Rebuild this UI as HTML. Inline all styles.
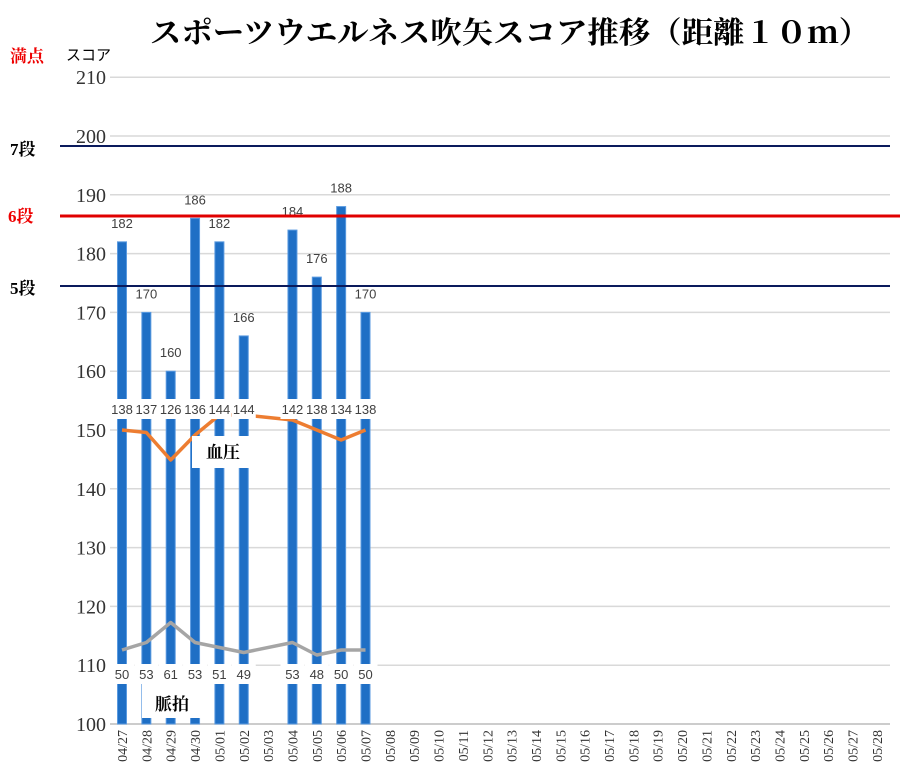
<!DOCTYPE html>
<html><head><meta charset="utf-8"><style>
body{margin:0;background:#fff}
svg{display:block}
.serif{font-family:"Liberation Serif","Noto Serif CJK SC",serif}
.sans{font-family:"Liberation Sans","Noto Sans CJK JP",sans-serif}
</style></head><body>
<svg id="chart" width="900" height="778" viewBox="0 0 900 778" xmlns="http://www.w3.org/2000/svg">
<text x="510" y="43" text-anchor="middle" class="serif" font-size="30" font-weight="bold" fill="#000" textLength="720" lengthAdjust="spacingAndGlyphs">スポーツウエルネス吹矢スコア推移（距離１０ｍ）</text>
<text x="10" y="62" class="serif" font-size="17" font-weight="bold" fill="#e00">満点</text>
<text x="66" y="60" class="sans" font-size="15" fill="#000">スコア</text>
<g id="grid"></g><g id="bars"></g><g id="lines"></g><g id="labels"></g><g id="xt"></g>
<line x1="60" x2="890" y1="146" y2="146" stroke="#0a1a5c" stroke-width="2"/>
<line x1="60" x2="900" y1="216" y2="216" stroke="#e00000" stroke-width="3"/>
<line x1="60" x2="890" y1="286" y2="286" stroke="#0a1a5c" stroke-width="2"/>
<text x="10" y="155" class="serif" font-size="17" font-weight="bold" fill="#000">7段</text>
<text x="8" y="222" class="serif" font-size="17" font-weight="bold" fill="#e00">6段</text>
<text x="10" y="294" class="serif" font-size="17" font-weight="bold" fill="#000">5段</text>
<rect x="192" y="436" width="62" height="32" fill="#fff"/>
<text x="206" y="458" class="serif" font-size="17" font-weight="bold">血圧</text>
<rect x="142" y="682" width="62" height="36" fill="#fff"/>
<text x="155" y="710" class="serif" font-size="17" font-weight="bold">脈拍</text>
</svg>
<script>
const dates=["04/27","04/28","04/29","04/30","05/01","05/02","05/03","05/04","05/05","05/06","05/07","05/08","05/09","05/10","05/11","05/12","05/13","05/14","05/15","05/16","05/17","05/18","05/19","05/20","05/21","05/22","05/23","05/24","05/25","05/26","05/27","05/28"];
const scores=[182,170,160,186,182,166,null,184,176,188,170];
const bp=[138,137,126,136,144,144,null,142,138,134,138];
const pulse=[50,53,61,53,51,49,null,53,48,50,50];
const yTicks=[100,110,120,130,140,150,160,170,180,190,200,210];
const NS="http://www.w3.org/2000/svg";
const X=i=>122+i*24.35;
const Y=v=>724-(v-100)*5.88;
const Y2=v=>775-v*2.5;
function mk(t,a,p,txt){const e=document.createElementNS(NS,t);for(const k in a)e.setAttribute(k,a[k]);if(txt!=null)e.textContent=txt;document.getElementById(p).appendChild(e);return e;}
yTicks.forEach(v=>{
 const l=mk('line',{x1:110,x2:890,y1:Y(v),y2:Y(v),stroke:v==100?'#bbb':'#d9d9d9','stroke-width':1.5},'grid');
 
 
 const t=mk('text',{x:106,y:Y(v)+7,'text-anchor':'end','font-size':20,fill:'#333',class:'serif'},'grid',v);
 
 
});
scores.forEach((v,i)=>{if(v==null)return;
 const r=mk('rect',{x:X(i)-4.5,y:Y(v),width:9,height:724-Y(v),fill:'#1f6fc5',stroke:'#5a9ae0','stroke-width':1},'bars');
 
 
 const t=mk('text',{x:X(i),y:Y(v)-14,'text-anchor':'middle','font-size':13,fill:'#404040',class:'sans'},'labels',v);
 
 
});
function series(arr,color,name,ly){
 let segs=[],cur=[];
 arr.forEach((v,i)=>{if(v==null){if(cur.length)segs.push(cur);cur=[];}else cur.push(X(i)+','+Y2(v));});
 if(cur.length)segs.push(cur);
 const p=mk('polyline',{points:segs.flat().join(' '),fill:'none',stroke:color,'stroke-width':3.5,'stroke-linejoin':'round'},'lines');
 
 
 arr.forEach((v,i)=>{if(v==null)return;
  const r=mk('rect',{x:X(i)-12,y:ly-10,width:24,height:20,fill:'#fff'},'labels');
  
  
  const t=mk('text',{x:X(i),y:ly+5,'text-anchor':'middle','font-size':13,fill:'#404040',class:'sans'},'labels',v);
  
  
 });
}
series(bp,'#ed7d31','bp',409);
series(pulse,'#a5a5a5','pulse',674);
dates.forEach((d,i)=>{
 const t=mk('text',{transform:`translate(${X(i)+5},730) rotate(-90)`,'text-anchor':'end','font-size':14,fill:'#333',class:'serif'},'xt',d);
 
 
});
</script>
</body></html>
